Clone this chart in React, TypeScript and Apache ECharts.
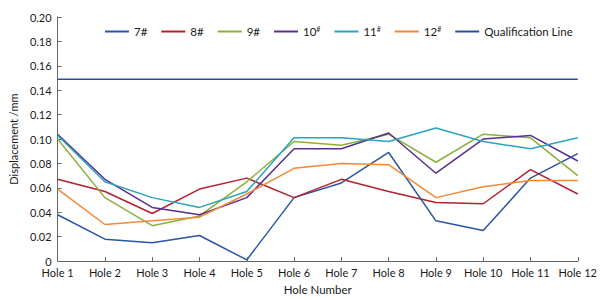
import React, { useEffect, useRef } from "react";
import * as echarts from "echarts";

const holes = ["Hole 1", "Hole 2", "Hole 3", "Hole 4", "Hole 5", "Hole 6", "Hole 7", "Hole 8", "Hole 9", "Hole 10", "Hole 11", "Hole 12"];

const s7 = [0.038, 0.018, 0.015, 0.021, 0.001, 0.052, 0.064, 0.089, 0.033, 0.025, 0.068, 0.088];
const s8 = [0.067, 0.057, 0.039, 0.059, 0.068, 0.052, 0.067, 0.057, 0.048, 0.047, 0.075, 0.055];
const s9 = [0.100, 0.052, 0.029, 0.037, 0.065, 0.098, 0.095, 0.104, 0.081, 0.104, 0.101, 0.070];
const s10 = [0.104, 0.067, 0.044, 0.038, 0.052, 0.092, 0.092, 0.105, 0.072, 0.100, 0.103, 0.082];
const s11 = [0.103, 0.065, 0.052, 0.044, 0.057, 0.101, 0.101, 0.098, 0.109, 0.098, 0.092, 0.101];
const s12 = [0.059, 0.030, 0.033, 0.036, 0.055, 0.076, 0.080, 0.079, 0.052, 0.061, 0.066, 0.066];
const qualification = [0.149, 0.149, 0.149, 0.149, 0.149, 0.149, 0.149, 0.149, 0.149, 0.149, 0.149, 0.149];

const seriesNames = ["7#", "8#", "9#", "10#", "11#", "12#", "Qualification Line"];
const seriesData = [s7, s8, s9, s10, s11, s12, qualification];
const colors = ["#2856a3", "#b3202e", "#8cb03c", "#5a2f8c", "#2ba3bd", "#f0893a", "#2a4f96"];

const FONT = "Lato";

export default function App() {
  const ref = useRef<HTMLDivElement>(null);

  useEffect(() => {
    if (!ref.current) return;
    const chart = echarts.init(ref.current, null, { renderer: "svg" });
    chart.setOption({
      animation: false,
      textStyle: { fontFamily: FONT },
      legend: {
        top: 20,
        left: 100,
        width: 500,
        itemWidth: 24,
        itemHeight: 2,
        itemGap: 14,
        icon: "rect",
        data: seriesNames.map((n, i) => ({
          name: n,
          itemStyle: { color: colors[i] },
        })),
        formatter: (name: string) => {
          if (name === "10#" || name === "11#" || name === "12#") {
            return `{n|${name.slice(0, -1)}}{sup|#}`;
          }
          return `{n|${name}}`;
        },
        textStyle: {
          fontFamily: FONT,
          padding: [0, 0, 0, 0],
          rich: {
            n: { fontSize: 11.5, color: "#1a1a1a", fontFamily: FONT },
            sup: { fontSize: 7, color: "#1a1a1a", fontFamily: FONT, verticalAlign: "top", padding: [0, 0, 6, 0] },
          },
        },
      },
      grid: { left: 48, right: 22, top: 17, bottom: 35, containLabel: false },
      xAxis: {
        type: "category",
        data: holes,
        boundaryGap: false,
        name: "Hole Number",
        nameLocation: "middle",
        nameGap: 21,
        nameTextStyle: { fontSize: 11.5, color: "#1a1a1a", fontFamily: FONT },
        axisLine: { lineStyle: { color: "#666", width: 1 } },
        axisTick: { inside: true, length: 4, interval: 0, lineStyle: { color: "#666" } },
        axisLabel: { fontSize: 11, color: "#1a1a1a", margin: 6, interval: 0, fontFamily: FONT },
        splitLine: { show: false },
      },
      yAxis: {
        type: "value",
        min: 0,
        max: 0.2,
        interval: 0.02,
        name: "Displacement /mm",
        nameLocation: "middle",
        nameGap: 33,
        nameTextStyle: { fontSize: 11, color: "#1a1a1a", fontFamily: FONT },
        axisLine: { show: true, lineStyle: { color: "#666", width: 1 } },
        axisTick: { show: true, inside: true, length: 4, lineStyle: { color: "#666" } },
        axisLabel: {
          fontSize: 11,
          color: "#1a1a1a",
          margin: 6,
          fontFamily: FONT,
          formatter: (v: number) => (v === 0 ? "0" : v.toFixed(2)),
        },
        splitLine: { show: false },
      },
      series: seriesNames.map((n, i) => ({
        name: n,
        type: "line",
        data: seriesData[i],
        symbol: "none",
        lineStyle: { color: colors[i], width: 1.5 },
        itemStyle: { color: colors[i] },
      })),
    });
    return () => chart.dispose();
  }, []);

  return (
    <div
      ref={ref}
      style={{ position: "absolute", left: 0, top: 0, width: 600, height: 300, background: "#fff" }}
    />
  );
}
